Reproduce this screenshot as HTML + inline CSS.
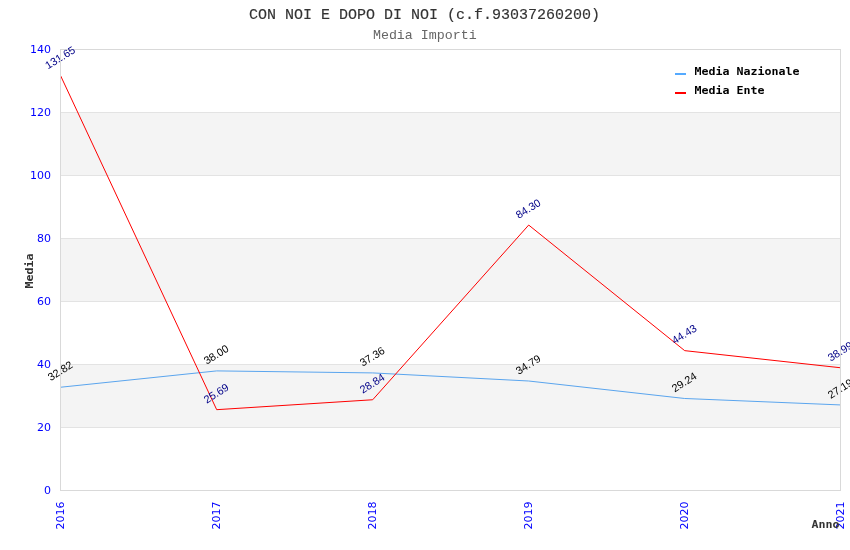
<!DOCTYPE html><html><head><meta charset="utf-8"><title>Media Importi</title>
<style>
html,body{margin:0;padding:0;background:#fff;}
body{width:850px;height:550px;overflow:hidden;}
svg{display:block}
.mono{font-family:"Liberation Mono","DejaVu Sans Mono",monospace}
.monob{font-family:"DejaVu Sans Mono","Liberation Mono",monospace;font-weight:bold;font-size:11px}
.ax{font-family:"DejaVu Sans","Liberation Sans",sans-serif;font-size:11px;fill:#0000ff}
.dl{font-family:"Liberation Sans","DejaVu Sans",sans-serif;font-size:10.8px}
</style></head><body>
<svg width="850" height="550" viewBox="0 0 850 550">
<rect x="0" y="0" width="850" height="550" fill="#ffffff"/>
<rect x="60" y="364" width="780" height="63" fill="#f4f4f4" shape-rendering="crispEdges"/>
<rect x="60" y="238" width="780" height="63" fill="#f4f4f4" shape-rendering="crispEdges"/>
<rect x="60" y="112" width="780" height="63" fill="#f4f4f4" shape-rendering="crispEdges"/>
<rect x="60" y="490" width="781" height="1" fill="#e3e3e3" shape-rendering="crispEdges"/>
<rect x="60" y="427" width="781" height="1" fill="#e3e3e3" shape-rendering="crispEdges"/>
<rect x="60" y="364" width="781" height="1" fill="#e3e3e3" shape-rendering="crispEdges"/>
<rect x="60" y="301" width="781" height="1" fill="#e3e3e3" shape-rendering="crispEdges"/>
<rect x="60" y="238" width="781" height="1" fill="#e3e3e3" shape-rendering="crispEdges"/>
<rect x="60" y="175" width="781" height="1" fill="#e3e3e3" shape-rendering="crispEdges"/>
<rect x="60" y="112" width="781" height="1" fill="#e3e3e3" shape-rendering="crispEdges"/>
<rect x="60" y="49" width="781" height="1" fill="#e3e3e3" shape-rendering="crispEdges"/>
<rect x="60" y="49" width="781" height="1" fill="#d9d9d9" shape-rendering="crispEdges"/>
<rect x="60" y="490" width="781" height="1" fill="#d9d9d9" shape-rendering="crispEdges"/>
<text class="mono" x="424.5" y="19" text-anchor="middle" font-size="15px" fill="#333333" stroke="#333333" stroke-width="0.15">CON NOI E DOPO DI NOI (c.f.93037260200)</text>
<text class="mono" x="424.8" y="39.3" text-anchor="middle" font-size="13.3px" fill="#666666">Media Importi</text>
<text class="ax" x="51" y="494.0" text-anchor="end">0</text>
<text class="ax" x="51" y="431.0" text-anchor="end">20</text>
<text class="ax" x="51" y="368.0" text-anchor="end">40</text>
<text class="ax" x="51" y="305.0" text-anchor="end">60</text>
<text class="ax" x="51" y="242.0" text-anchor="end">80</text>
<text class="ax" x="51" y="179.0" text-anchor="end">100</text>
<text class="ax" x="51" y="116.0" text-anchor="end">120</text>
<text class="ax" x="51" y="53.0" text-anchor="end">140</text>
<text class="ax" transform="translate(64,529.5) rotate(-90)">2016</text>
<text class="ax" transform="translate(220,529.5) rotate(-90)">2017</text>
<text class="ax" transform="translate(376,529.5) rotate(-90)">2018</text>
<text class="ax" transform="translate(532,529.5) rotate(-90)">2019</text>
<text class="ax" transform="translate(688,529.5) rotate(-90)">2020</text>
<text class="ax" transform="translate(844,529.5) rotate(-90)">2021</text>
<text class="monob" fill="#333" transform="translate(32.9,271) rotate(-90) scale(1.058,1)" text-anchor="middle">Media</text>
<text class="monob" fill="#333" transform="translate(839.5,528) scale(1.058,1)" text-anchor="end">Anno</text>
<polyline points="60.7,387.22 216.7,370.90 372.7,372.92 528.7,381.01 684.7,398.49 840.7,404.95" fill="none" stroke="#5aa5ee" stroke-width="1"/>
<polyline points="60.7,75.90 216.7,409.68 372.7,399.75 528.7,225.06 684.7,350.65 840.7,367.78" fill="none" stroke="#ff0000" stroke-width="1"/>
<text class="dl" fill="#000000" text-anchor="middle" transform="translate(60,370.6) rotate(-32)" dy="4">32.82</text>
<text class="dl" fill="#000000" text-anchor="middle" transform="translate(216,354.3) rotate(-32)" dy="4">38.00</text>
<text class="dl" fill="#000000" text-anchor="middle" transform="translate(372,356.3) rotate(-32)" dy="4">37.36</text>
<text class="dl" fill="#000000" text-anchor="middle" transform="translate(528,364.4) rotate(-32)" dy="4">34.79</text>
<text class="dl" fill="#000000" text-anchor="middle" transform="translate(684,381.9) rotate(-32)" dy="4">29.24</text>
<text class="dl" fill="#000000" text-anchor="middle" transform="translate(840,388.4) rotate(-32)" dy="4">27.19</text>
<text class="dl" fill="#000088" text-anchor="middle" transform="translate(60,57.3) rotate(-32)" dy="4">131.65</text>
<text class="dl" fill="#000088" text-anchor="middle" transform="translate(216,393.1) rotate(-32)" dy="4">25.69</text>
<text class="dl" fill="#000088" text-anchor="middle" transform="translate(372,383.2) rotate(-32)" dy="4">28.84</text>
<text class="dl" fill="#000088" text-anchor="middle" transform="translate(528,208.5) rotate(-32)" dy="4">84.30</text>
<text class="dl" fill="#000088" text-anchor="middle" transform="translate(684,334.0) rotate(-32)" dy="4">44.43</text>
<text class="dl" fill="#000088" text-anchor="middle" transform="translate(840,351.2) rotate(-32)" dy="4">38.99</text>
<rect x="60" y="49" width="1" height="442" fill="#d9d9d9" shape-rendering="crispEdges"/>
<rect x="840" y="49" width="1" height="442" fill="#d9d9d9" shape-rendering="crispEdges"/>
<rect x="675" y="73" width="11" height="2" fill="#55aaff" shape-rendering="crispEdges"/>
<rect x="675" y="92" width="11" height="2" fill="#ff0000" shape-rendering="crispEdges"/>
<text class="monob" fill="#000" transform="translate(694.6,75) scale(1.058,1)">Media Nazionale</text>
<text class="monob" fill="#000" transform="translate(694.6,94) scale(1.058,1)">Media Ente</text>
</svg></body></html>
